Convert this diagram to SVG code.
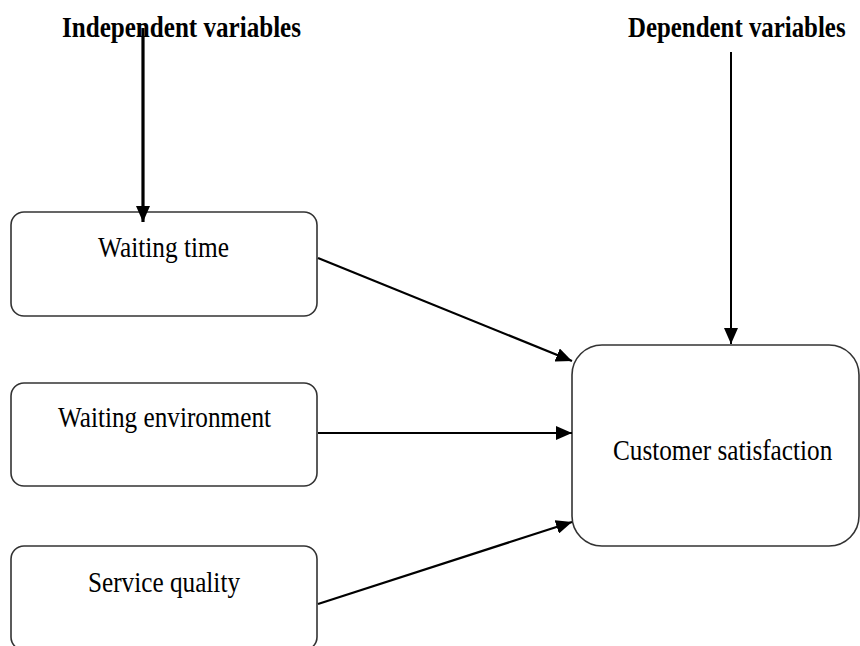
<svg xmlns="http://www.w3.org/2000/svg" width="860" height="646" viewBox="0 0 860 646">
<style>
.box{fill:#fff;stroke:#333;stroke-width:1.6}
.lbl{font-family:"Liberation Serif","Times New Roman",serif;font-size:30px;fill:#000}
.hdr{font-family:"Liberation Serif","Times New Roman",serif;font-size:29px;font-weight:bold;fill:#000}
.con{stroke:#000;fill:none}
</style>
<defs>
<marker id="ah" markerUnits="userSpaceOnUse" markerWidth="18" markerHeight="14" refX="16" refY="7" orient="auto">
<path d="M0,0 L16,7 L0,14 Z" fill="#000"/>
</marker>
</defs>
<rect width="860" height="646" fill="#fff"/>
<g id="hdr-independent"><text class="hdr" x="62" y="37" textLength="239" lengthAdjust="spacingAndGlyphs">Independent variables</text></g>
<g id="hdr-dependent"><text class="hdr" transform="translate(628,37) scale(0.86,1)" x="0" y="0" textLength="253" lengthAdjust="spacingAndGlyphs">Dependent variables</text></g>
<g id="n-waiting-time"><rect class="box" x="11" y="212" width="306" height="104" rx="13"/><text class="lbl" x="98" y="257" textLength="131" lengthAdjust="spacingAndGlyphs">Waiting time</text></g>
<g id="n-waiting-env"><rect class="box" x="11" y="383" width="306" height="103" rx="13"/><text class="lbl" x="58" y="427" textLength="213" lengthAdjust="spacingAndGlyphs">Waiting environment</text></g>
<g id="n-service-quality"><rect class="box" x="11" y="546" width="306" height="104" rx="13"/><text class="lbl" x="88" y="592" textLength="152" lengthAdjust="spacingAndGlyphs">Service quality</text></g>
<g id="n-customer-sat"><rect class="box" x="572" y="345" width="287" height="201" rx="30"/><text class="lbl" transform="translate(613,460) scale(0.84,1)" x="0" y="0" textLength="261" lengthAdjust="spacingAndGlyphs">Customer satisfaction</text></g>
<g id="connectors">
<line class="con" x1="143" y1="28" x2="143" y2="222" stroke-width="3.2" marker-end="url(#ah)"/>
<line class="con" x1="731" y1="52" x2="731" y2="344" stroke-width="2" marker-end="url(#ah)"/>
<line class="con" x1="318" y1="258" x2="572" y2="361" stroke-width="2.2" marker-end="url(#ah)"/>
<line class="con" x1="318" y1="433" x2="572" y2="433" stroke-width="2.2" marker-end="url(#ah)"/>
<line class="con" x1="318" y1="604" x2="572" y2="522" stroke-width="2.2" marker-end="url(#ah)"/>
</g>
</svg>
